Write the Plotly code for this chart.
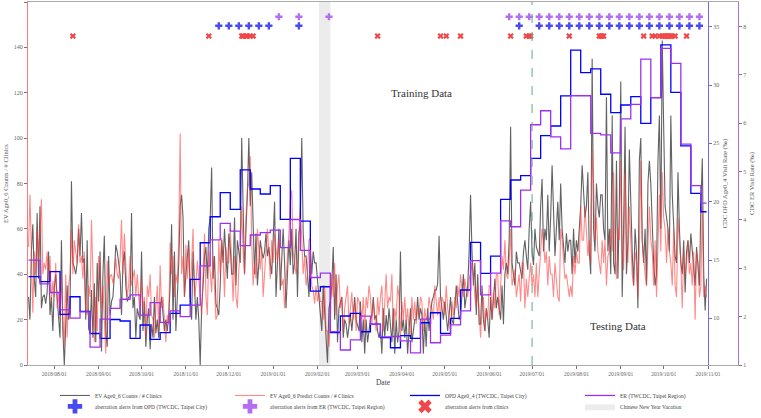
import pandas as pd
import plotly.graph_objects as go

# ---------------- data ----------------
start_date = "2018-07-14"

ev_counts = [
    30, 20, 50, 62, 38, 30, 67, 38, 70, 25,
    30, 31, 27, 32, 50, 22, 30, 15, 34, 40,
    30, 22, 12, 55, 15, 0, 14, 35, 20, 25,
    81, 45, 43, 40, 45, 60, 48, 67, 45, 47,
    20, 55, 16, 14, 33, 12, 36, 10, 45, 28,
    50, 6, 40, 57, 15, 8, 48, 22, 28, 30,
    40, 53, 50, 45, 40, 22, 45, 50, 35, 28,
    30, 30, 67, 25, 30, 12, 25, 22, 20, 50,
    15, 28, 8, 20, 25, 7, 18, 12, 30, 14,
    20, 12, 25, 30, 20, 15, 20, 15, 22, 35,
    62, 20, 50, 15, 30, 45, 70, 75, 65, 30,
    40, 47, 55, 30, 20, 50, 38, 20, 30, 20,
    0, 25, 35, 48, 52, 38, 60, 65, 87, 38,
    48, 27, 25, 22, 35, 55, 45, 60, 48, 38,
    58, 52, 40, 40, 65, 35, 55, 50, 45, 100,
    62, 40, 60, 75, 100, 70, 85, 55, 40, 58,
    35, 45, 55, 50, 47, 50, 58, 48, 52, 45,
    40, 55, 72, 30, 50, 60, 33, 48, 60, 45,
    25, 40, 55, 44, 60, 40, 45, 60, 30, 58,
    62, 100, 58, 48, 48, 40, 30, 50, 40, 50,
    45, 45, 38, 28, 22, 15, 35, 20, 12, 1,
    25, 28, 35, 52, 20, 40, 10, 25, 28, 30,
    12, 20, 18, 12, 17, 22, 15, 25, 30, 20,
    18, 15, 28, 10, 20, 5, 20, 10, 15, 20,
    22, 30, 20, 22, 15, 12, 15, 5, 25, 12,
    22, 15, 25, 18, 10, 25, 5, 20, 10, 15,
    50, 15, 20, 12, 20, 5, 18, 25, 10, 15,
    20, 20, 30, 20, 25, 22, 5, 20, 8, 25,
    15, 22, 28, 30, 33, 33, 36, 57, 30, 25,
    20, 28, 20, 15, 22, 30, 20, 18, 25, 35,
    28, 20, 22, 30, 40, 25, 30, 35, 50, 75,
    50, 35, 45, 22, 40, 18, 18, 35, 20, 15,
    25, 20, 12, 30, 20, 28, 38, 25, 30, 25,
    20, 35, 18, 40, 45, 40, 55, 105, 45, 40,
    35, 50, 45, 45, 42, 38, 50, 55, 48, 42,
    60, 72, 50, 44, 60, 52, 50, 48, 70, 82,
    50, 60, 55, 75, 50, 65, 88, 65, 48, 60,
    72, 55, 80, 60, 50, 45, 58, 50, 55, 55,
    40, 60, 45, 55, 50, 60, 70, 88, 75, 65,
    70, 85, 50, 40, 135, 60, 50, 80, 70, 65,
    75, 75, 60, 55, 118, 50, 60, 40, 110, 45,
    40, 90, 38, 70, 125, 30, 60, 105, 40, 55,
    95, 65, 50, 35, 60, 50, 25, 90, 100, 55,
    45, 60, 35, 80, 90, 80, 60, 45, 35, 40,
    90, 110, 60, 143, 105, 70, 65, 60, 50, 110,
    75, 60, 48, 45, 85, 60, 45, 40, 55, 32,
    50, 55, 45, 58, 50, 45, 35, 52, 45, 35,
    70, 91, 40, 24, 38,
]

ev_predict = [
    52, 75, 50, 23, 50, 40, 60, 45, 60, 73,
    40, 45, 42, 50, 36, 48, 28, 37, 30, 45,
    25, 32, 20, 40, 20, 8, 40, 12, 35, 40,
    60, 40, 55, 50, 45, 62, 45, 48, 38, 50,
    25, 22, 35, 30, 64, 40, 10, 30, 15, 48,
    44, 25, 35, 20, 5, 46, 35, 39, 40, 36,
    40, 47, 40, 38, 47, 64, 40, 58, 45, 30,
    35, 48, 35, 38, 42, 30, 40, 30, 22, 38,
    25, 30, 12, 35, 30, 40, 22, 20, 12, 25,
    35, 15, 44, 25, 30, 20, 10, 22, 18, 54,
    40, 48, 30, 40, 36, 55, 102, 40, 48, 30,
    53, 38, 52, 30, 42, 60, 30, 35, 46, 36,
    30, 22, 45, 58, 30, 22, 50, 38, 32, 48,
    35, 20, 22, 55, 40, 56, 48, 30, 52, 45,
    45, 60, 45, 28, 48, 30, 25, 42, 50, 70,
    50, 40, 65, 78, 80, 92, 55, 35, 45, 38,
    60, 48, 42, 52, 30, 40, 48, 60, 50, 38,
    55, 45, 58, 50, 45, 55, 40, 35, 38, 25,
    40, 48, 58, 72, 77, 50, 45, 40, 45, 55,
    70, 55, 40, 48, 35, 40, 55, 56, 35, 33,
    27, 35, 28, 32, 28, 28, 20, 35, 15, 15,
    8, 20, 40, 30, 45, 22, 35, 40, 25, 30,
    15, 25, 30, 35, 18, 25, 32, 20, 28, 15,
    30, 28, 25, 20, 30, 15, 30, 25, 35, 30,
    18, 28, 20, 15, 30, 22, 30, 35, 15, 30,
    40, 25, 30, 28, 40, 15, 25, 20, 35, 30,
    12, 28, 20, 30, 18, 25, 15, 12, 30, 20,
    28, 18, 25, 22, 30, 28, 15, 25, 20, 22,
    30, 25, 25, 20, 35, 28, 22, 30, 20, 30,
    28, 22, 35, 25, 20, 15, 28, 22, 30, 25,
    35, 30, 40, 33, 30, 38, 33, 30, 38, 40,
    45, 40, 30, 25, 35, 20, 12, 25, 30, 15,
    25, 20, 35, 35, 20, 32, 25, 40, 40, 22,
    35, 48, 42, 55, 40, 38, 45, 60, 35, 38,
    42, 30, 35, 40, 28, 45, 45, 25, 38, 30,
    38, 45, 35, 40, 30, 45, 30, 40, 50, 60,
    55, 45, 50, 35, 48, 40, 40, 30, 45, 35,
    30, 28, 60, 55, 48, 38, 40, 35, 30, 35,
    30, 48, 40, 50, 45, 45, 70, 55, 55, 70,
    60, 48, 55, 45, 95, 80, 55, 65, 50, 45,
    40, 55, 45, 55, 35, 48, 50, 60, 50, 85,
    50, 38, 60, 55, 90, 50, 42, 85, 55, 45,
    70, 55, 40, 35, 50, 45, 30, 50, 90, 55,
    45, 40, 35, 55, 70, 55, 50, 35, 55, 30,
    55, 75, 50, 85, 65, 60, 45, 60, 50, 45,
    35, 60, 35, 30, 65, 55, 45, 25, 50, 40,
    45, 55, 40, 45, 35, 50, 20, 50, 45, 30,
    35, 70, 30, 35, 30,
]

# weekly series (first partial week starts 2018-07-14, then Sundays)
week_start = ["2018-07-14"] + [d.strftime("%Y-%m-%d") for d in
                               pd.date_range("2018-07-22", "2019-10-27", freq="7D")]
week_end = "2019-10-31"

opd_rate = [
    13.57, 13.14, 14.0, 10.34, 11.85, 10.6, 8.7, 8.28, 9.9, 9.77,
    8.28, 9.43, 8.2, 8.77, 10.43, 11.14, 13.34, 16.48, 18.71, 20.77,
    19.35, 22.72, 21.09, 20.66, 21.37, 18.49, 23.72, 18.34, 12.34, 12.71,
    8.77, 10.2, 10.43, 8.85, 9.51, 8.34, 7.48, 8.51, 8.28, 9.62,
    10.48, 8.71, 10.0, 12.43, 16.52, 13.86, 15.34, 20.2, 21.86, 22.23,
    23.72, 25.66, 26.49, 29.07, 33.0, 31.06, 31.38, 29.21, 27.63, 28.29,
    29.0, 26.72, 28.92, 33.44, 29.38, 24.78, 20.72, 19.14,
]

er_rate = [
    3.17, 2.68, 2.50, 2.14, 1.97, 2.10, 1.37, 1.95, 2.17, 2.36,
    2.45, 2.03, 2.29, 1.88, 2.12, 2.0, 2.24, 3.05, 3.59, 3.93,
    3.77, 3.47, 3.69, 3.74, 3.79, 3.43, 4.01, 3.37, 2.81, 2.90,
    1.69, 1.31, 1.52, 2.01, 1.84, 1.58, 1.59, 1.50, 1.25, 1.95,
    1.46, 1.62, 1.83, 2.12, 3.16, 2.45, 2.90, 3.98, 3.86, 4.62,
    5.97, 6.26, 5.72, 5.47, 6.57, 6.57, 5.79, 5.76, 5.39, 6.09,
    6.39, 7.33, 6.53, 7.55, 7.24, 5.57, 4.71, 4.35,
]

opd_alerts = [
    "2018-11-24", "2018-12-01", "2018-12-08", "2018-12-15", "2018-12-22",
    "2018-12-29", "2019-01-19", "2019-06-22", "2019-07-06", "2019-07-13",
    "2019-07-20", "2019-07-27", "2019-08-03", "2019-08-10", "2019-08-17",
    "2019-08-24", "2019-08-31", "2019-09-07", "2019-09-14", "2019-09-21",
    "2019-09-28", "2019-10-05", "2019-10-12", "2019-10-19", "2019-10-26",
]
er_alerts = [
    "2019-01-05", "2019-01-19", "2019-02-09", "2019-06-15", "2019-06-22",
    "2019-06-29", "2019-07-06", "2019-07-13", "2019-07-20", "2019-07-27",
    "2019-08-03", "2019-08-10", "2019-08-17", "2019-08-24", "2019-08-31",
    "2019-09-07", "2019-09-14", "2019-09-21", "2019-09-28", "2019-10-05",
    "2019-10-12", "2019-10-19", "2019-10-26",
]
clinic_alerts = [
    "2018-08-14", "2018-11-17", "2018-12-10", "2018-12-11", "2018-12-13",
    "2018-12-14", "2018-12-16", "2018-12-18", "2019-03-15", "2019-04-28",
    "2019-05-02", "2019-05-12", "2019-06-16", "2019-06-27", "2019-06-29",
    "2019-06-30", "2019-07-27", "2019-08-17", "2019-08-18", "2019-08-19",
    "2019-08-20", "2019-09-17", "2019-09-23", "2019-09-25", "2019-09-28",
    "2019-09-30", "2019-10-01", "2019-10-02", "2019-10-03", "2019-10-04",
    "2019-10-05", "2019-10-06", "2019-10-07", "2019-10-09", "2019-10-17",
]
alert_levels = {"clinic": 145, "opd": 149.5, "er": 153.5}

cny_start, cny_end = "2019-02-02", "2019-02-10"
test_start = "2019-07-01"

month_ticks = pd.date_range("2018-08-01", "2019-11-01", freq="MS")
tick_text = [d.strftime("%Y/%m/%d") for d in month_ticks]

# ---------------- figure ----------------
FONT = "Liberation Serif, Times New Roman, serif"
days = pd.date_range(start_date, periods=len(ev_counts), freq="D")

fig = go.Figure()

fig.add_trace(go.Scatter(
    x=[cny_start, cny_end, cny_end, cny_start, cny_start],
    y=[0, 0, 160, 160, 0], mode="lines", fill="toself",
    fillcolor="rgba(200,200,200,0.35)", line=dict(width=0),
    name="Chinese New Year Vacation", legend="legend2", legendrank=1004,
    hoverinfo="skip"))

fig.add_trace(go.Scatter(
    x=days, y=ev_counts, mode="lines", name="EV Age0_6 Counts / # Clinics",
    line=dict(color="rgba(70,70,70,0.85)", width=1.1), legendrank=1001))

fig.add_trace(go.Scatter(
    x=days, y=ev_predict, mode="lines", name="EV Age0_6 Predict Counts / # Clinics",
    line=dict(color="rgba(255,60,60,0.6)", width=1.1), legendrank=1002))

fig.add_trace(go.Scatter(
    x=week_start + [week_end], y=opd_rate + [opd_rate[-1]], mode="lines",
    line_shape="hv", name="OPD Age0_4 (TWCDC, Taipei City)",
    line=dict(color="#0000ff", width=1.3), yaxis="y2", legendrank=1003))

fig.add_trace(go.Scatter(
    x=week_start + [week_end], y=er_rate + [er_rate[-1]], mode="lines",
    line_shape="hv", name="ER (TWCDC, Taipei Region)",
    line=dict(color="#a030f0", width=1.3), yaxis="y3", legendrank=1004))

fig.add_trace(go.Scatter(
    x=opd_alerts, y=[alert_levels["opd"]] * len(opd_alerts), mode="markers",
    marker=dict(symbol="cross", size=6, color="#4a4af2"),
    name="aberration alerts from OPD (TWCDC, Taipei City)",
    legend="legend2", legendrank=1001))

fig.add_trace(go.Scatter(
    x=er_alerts, y=[alert_levels["er"]] * len(er_alerts), mode="markers",
    marker=dict(symbol="cross", size=6, color="#b46ef2"),
    name="aberration alerts from ER (TWCDC, Taipei Region)",
    legend="legend2", legendrank=1002))

fig.add_trace(go.Scatter(
    x=clinic_alerts, y=[alert_levels["clinic"]] * len(clinic_alerts), mode="markers",
    marker=dict(symbol="x", size=5.5, color="#f04848"),
    name="aberration alerts from clinics",
    legend="legend2", legendrank=1003))

fig.add_shape(type="line", xref="x", yref="paper", x0=test_start, x1=test_start,
              y0=0, y1=1, line=dict(color="#5fa88a", width=1, dash="dash"))

fig.add_annotation(x="2019-04-15", y=120, text="Training Data", showarrow=False,
                   font=dict(family=FONT, size=11, color="#333"))
fig.add_annotation(x="2019-08-30", y=17, text="Testing Data", showarrow=False,
                   font=dict(family=FONT, size=11, color="#333"))

legend_common = dict(orientation="h", xanchor="left", yanchor="top",
                     font=dict(family=FONT, size=5.5, color="#444"),
                     entrywidth=130, entrywidthmode="pixels", itemwidth=30,
                     bgcolor="rgba(0,0,0,0)", traceorder="normal")

fig.update_layout(
    width=761, height=418, autosize=False,
    margin=dict(l=28, r=23, t=2, b=53, autoexpand=False),
    plot_bgcolor="white", paper_bgcolor="white",
    font=dict(family=FONT, size=6, color="#666"),
    xaxis=dict(type="date", range=["2018-07-13 15:00", "2019-11-21 23:00"],
               tickvals=month_ticks, ticktext=tick_text, ticks="outside",
               ticklen=3, tickcolor="#777", tickfont=dict(size=5.5, color="#666"),
               showline=True, linecolor="#aaaaaa", mirror=True, showgrid=False,
               zeroline=False,
               title=dict(text="Date", font=dict(size=7.5, color="#444"), standoff=4)),
    yaxis=dict(range=[0, 160], tickvals=list(range(0, 161, 20)), ticks="outside",
               ticklen=3, tickcolor="#777", showline=True, linecolor="#ff7a7a",
               showgrid=False, zeroline=False, tickfont=dict(size=6, color="#666"),
               title=dict(text="EV Age0_6 Counts / # Clinics",
                          font=dict(size=6.5, color="#555"), standoff=4)),
    yaxis2=dict(range=[6, 37.12], tickvals=[10, 15, 20, 25, 30, 35], overlaying="y",
                anchor="free", position=0.9577, side="right", ticks="outside",
                ticklen=3, tickcolor="#777", showline=True, linecolor="#6a6aff",
                showgrid=False, zeroline=False, tickfont=dict(size=6, color="#666"),
                title=dict(text="CDC OPD Age0_4 Visit Rate (‰)",
                           font=dict(size=6.5, color="#555"), standoff=4)),
    yaxis3=dict(range=[1, 8.51], tickvals=list(range(1, 9)), overlaying="y",
                anchor="x", side="right", ticks="outside", ticklen=3,
                tickcolor="#777", showline=True, linecolor="#b070dd",
                showgrid=False, zeroline=False, tickfont=dict(size=6, color="#666"),
                title=dict(text="CDC ER Visit Rate (‰)",
                           font=dict(size=6.5, color="#555"), standoff=4)),
    legend=dict(x=0.038, y=-0.044, itemsizing="trace", **legend_common),
    legend2=dict(x=0.038, y=-0.074, itemsizing="constant", **legend_common),
)

fig.write_html("out.html",
               config={"displayModeBar": False},
               post_script="document.body.style.margin='0px';"
                           "document.body.style.overflow='hidden';")
